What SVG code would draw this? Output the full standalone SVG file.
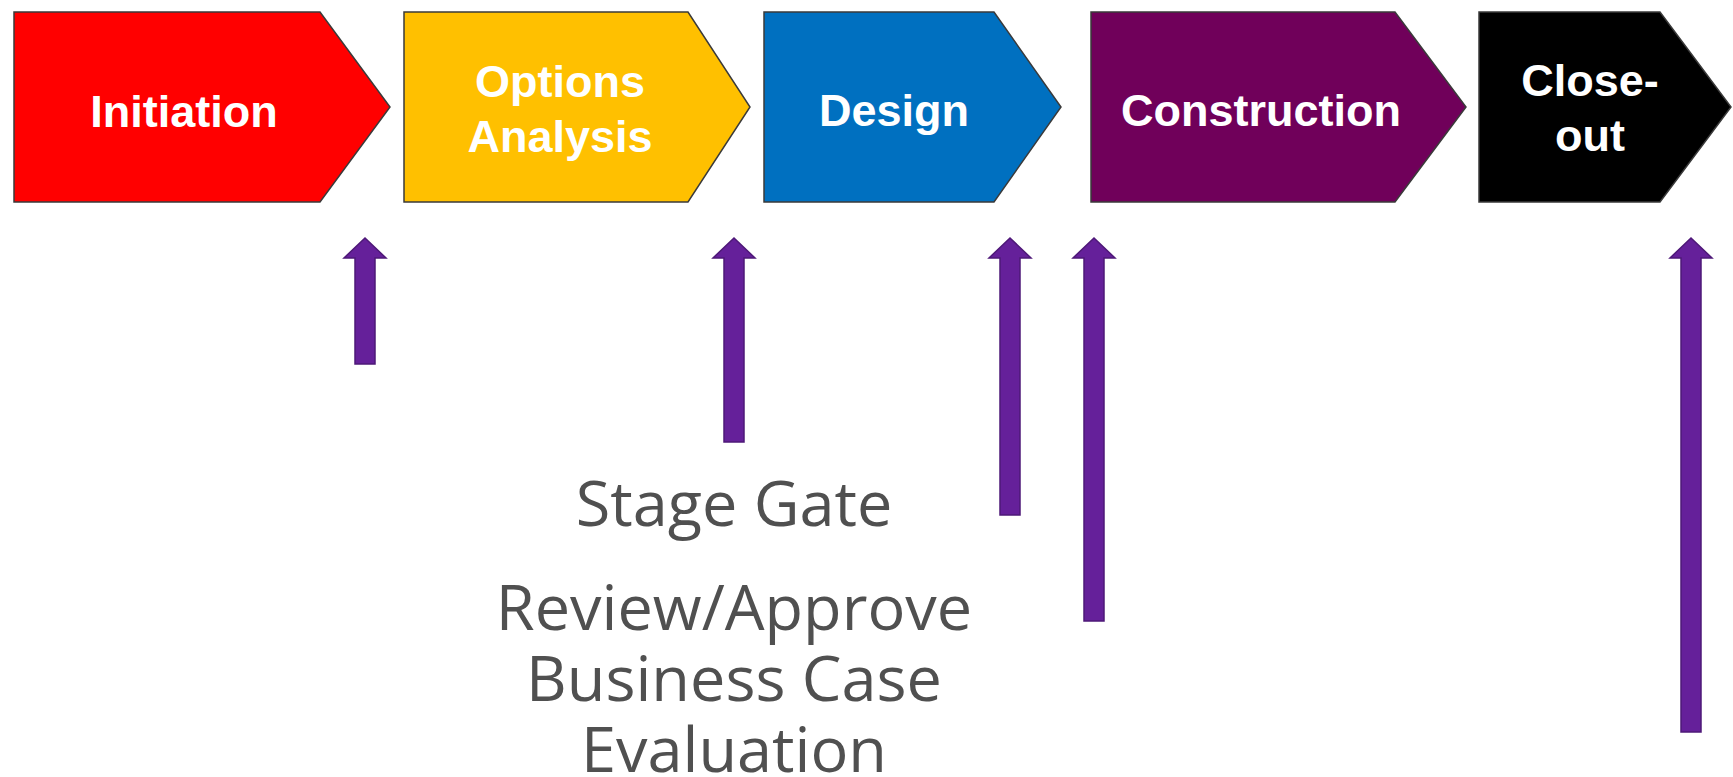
<svg xmlns="http://www.w3.org/2000/svg" width="1733" height="777" viewBox="0 0 1733 777">
<style>
.stage{stroke:#3a3a3a;stroke-width:1.5;stroke-linejoin:miter}
.lbl{font-family:"Liberation Sans",Arial,sans-serif;font-weight:bold;font-size:45px;fill:#ffffff;text-anchor:middle}
.gate{fill:#65209A;stroke:#4E1878;stroke-width:1.5}
.note{font-family:"Open Sans","Noto Sans",sans-serif;font-size:63px;fill:#505050;text-anchor:middle}
</style>
<rect width="1733" height="777" fill="#ffffff"/>
<g id="initiation">
<polygon class="stage" fill="#FF0000" points="14,12 320,12 390,107 320,202 14,202"/>
<text class="lbl" x="184" y="127">Initiation</text>
</g>
<g id="options-analysis">
<polygon class="stage" fill="#FFC000" points="404,12 688,12 750,107 688,202 404,202"/>
<text class="lbl" x="560" y="97">Options</text>
<text class="lbl" x="560" y="152">Analysis</text>
</g>
<g id="design">
<polygon class="stage" fill="#0070C0" points="764,12 994,12 1061,107 994,202 764,202"/>
<text class="lbl" x="894" y="126">Design</text>
</g>
<g id="construction">
<polygon class="stage" fill="#70005A" points="1091,12 1395,12 1466,107 1395,202 1091,202"/>
<text class="lbl" x="1261" y="126">Construction</text>
</g>
<g id="close-out">
<polygon class="stage" fill="#000000" points="1479,12 1660,12 1731,107 1660,202 1479,202"/>
<text class="lbl" x="1590" y="96">Close-</text>
<text class="lbl" x="1590" y="151">out</text>
</g>
<g id="connectors">
<polygon class="gate" points="365,238 386,258 375,258 375,364 355,364 355,258 344,258"/>
<polygon class="gate" points="734,238 755,258 744,258 744,442 724,442 724,258 713,258"/>
<polygon class="gate" points="1010,238 1031,258 1020,258 1020,515 1000,515 1000,258 989,258"/>
<polygon class="gate" points="1094,238 1115,258 1104,258 1104,621 1084,621 1084,258 1073,258"/>
<polygon class="gate" points="1691,238 1712,258 1701,258 1701,732 1681,732 1681,258 1670,258"/>
</g>
<g id="caption">
<text class="note" x="734" y="526">Stage Gate</text>
<text class="note" x="734" y="630">Review/Approve</text>
<text class="note" x="734" y="701">Business Case</text>
<text class="note" x="734" y="772">Evaluation</text>
</g>
</svg>
